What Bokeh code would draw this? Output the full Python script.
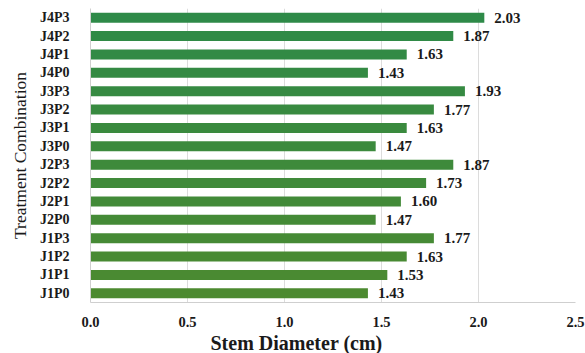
from bokeh.plotting import figure
from bokeh.models import ColumnDataSource, FactorRange, Range1d, Title, FixedTicker, CustomJSTickFormatter
from bokeh.core.properties import value
from bokeh.embed import file_html
from bokeh.resources import INLINE

# Treatment combinations, listed bottom to top
treatments = ["J1P0", "J1P1", "J1P2", "J1P3",
              "J2P0", "J2P1", "J2P2", "J2P3",
              "J3P0", "J3P1", "J3P2", "J3P3",
              "J4P0", "J4P1", "J4P2", "J4P3"]
stem_diameter = [1.43, 1.53, 1.63, 1.77,
                 1.47, 1.60, 1.73, 1.87,
                 1.47, 1.63, 1.77, 1.93,
                 1.43, 1.63, 1.87, 2.03]
x_ticks = [0.0, 0.5, 1.0, 1.5, 2.0, 2.5]

# green shade drifting from olive (bottom) to bluish green (top)
def blend(c0, c1, t):
    return "#%02x%02x%02x" % tuple(round(a + (b - a) * t) for a, b in zip(c0, c1))

n = len(treatments)
fills = [blend((0x4c, 0x8a, 0x30), (0x2e, 0x8a, 0x48), i / (n - 1)) for i in range(n)]
labels = ["%.2f" % v for v in stem_diameter]

src = ColumnDataSource(dict(t=treatments, v=stem_diameter, c=fills, lab=labels))

FONT = "Liberation Serif"

p = figure(width=585, height=353, output_backend="svg", toolbar_location=None,
           y_range=FactorRange(factors=treatments, range_padding=0),
           x_range=Range1d(0, 2.5),
           min_border_left=90, min_border_right=10, min_border_top=8,
           min_border_bottom=10)
p.outline_line_color = None
p.background_fill_color = "white"

p.hbar(y="t", right="v", left=0, height=0.54, fill_color="c", line_color=None, source=src)
p.text(x="v", y="t", text="lab", source=src, x_offset=10, text_baseline="middle",
       text_align="left", text_font=value(FONT), text_font_style="bold",
       text_font_size="15px", text_color="#1a1a1a")

p.ygrid.grid_line_color = None
p.xgrid.grid_line_color = "#dcdcdc"
p.xgrid.ticker = FixedTicker(ticks=x_ticks)

xa = p.xaxis[0]
xa.ticker = FixedTicker(ticks=x_ticks)
xa.formatter = CustomJSTickFormatter(code="return tick.toFixed(1);")
xa.major_tick_line_color = None
xa.minor_tick_line_color = None
xa.axis_line_color = "#cfcfcf"
xa.major_label_text_font = FONT
xa.major_label_text_font_style = "bold"
xa.major_label_text_font_size = "14.5px"
xa.major_label_text_color = "#1a1a1a"
xa.major_label_standoff = 8

ya = p.yaxis[0]
ya.major_tick_line_color = None
ya.minor_tick_line_color = None
ya.axis_line_color = "#cfcfcf"
ya.major_label_text_font = FONT
ya.major_label_text_font_style = "bold"
ya.major_label_text_font_size = "14px"
ya.major_label_text_color = "#1a1a1a"
ya.major_label_standoff = 15
ya.axis_label = "Treatment Combination"
ya.axis_label_text_font = FONT
ya.axis_label_text_font_style = "normal"
ya.axis_label_text_font_size = "17.5px"
ya.axis_label_text_color = "#1a1a1a"
ya.axis_label_standoff = 7

p.add_layout(Title(text="Stem Diameter (cm)", align="left", offset=120,
                   text_font=FONT, text_font_style="bold",
                   text_font_size="20px", text_color="#1a1a1a",
                   standoff=0), "below")

open("out.html", "w").write(file_html(p, INLINE))
